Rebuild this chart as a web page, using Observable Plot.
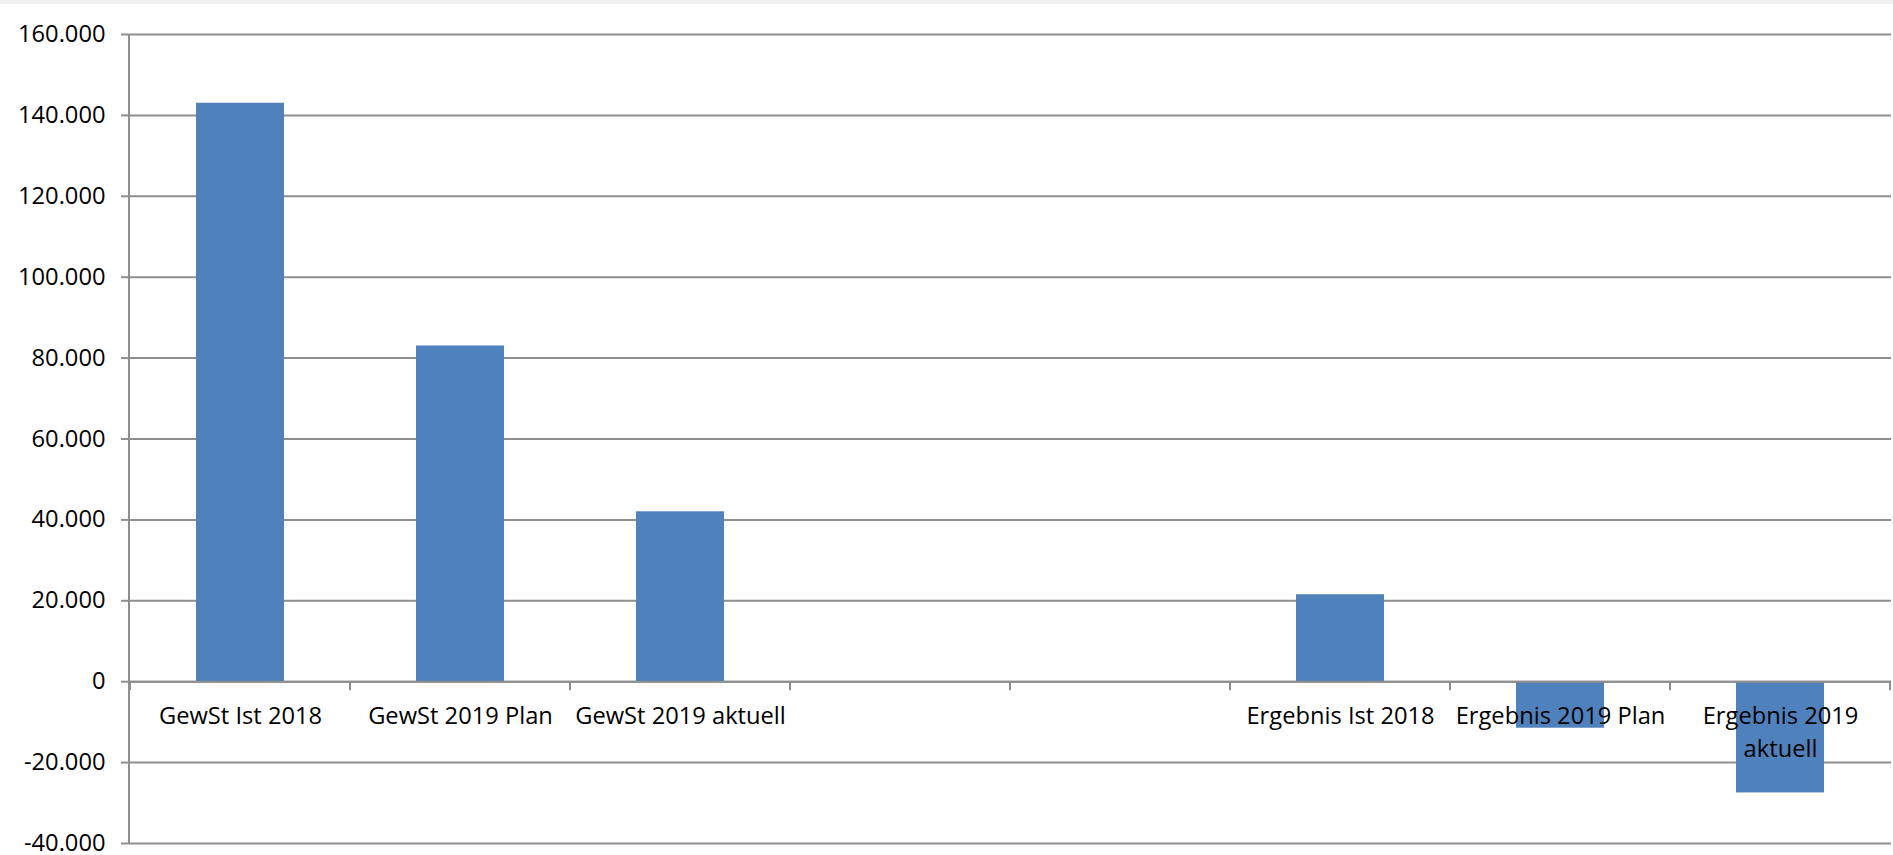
<!DOCTYPE html>
<html>
<head>
<meta charset="utf-8">
<script src="https://cdn.jsdelivr.net/npm/d3@7"></script>
<script src="https://cdn.jsdelivr.net/npm/@observablehq/plot@0.6"></script>
<style>
  html, body { margin: 0; padding: 0; background: #ffffff; }
  #strip { position: absolute; left: 0; top: 0; width: 100%; height: 4px; background: #f0f0f0; }
  #chart { position: absolute; left: 0; top: 0; }
  #chart svg { overflow: visible; }
</style>
</head>
<body>
<div id="chart"></div>
<div id="strip"></div>
<script>
// ---- data ----
const categories = [
  "GewSt Ist 2018", "GewSt 2019 Plan", "GewSt 2019 aktuell",
  "(leer 1)", "(leer 2)",
  "Ergebnis Ist 2018", "Ergebnis 2019 Plan", "Ergebnis 2019 aktuell"
];
const tickLabels = [
  "GewSt Ist 2018", "GewSt 2019 Plan", "GewSt 2019 aktuell",
  "", "",
  "Ergebnis Ist 2018", "Ergebnis 2019 Plan", "Ergebnis 2019\naktuell"
];
const values = [143000, 83000, 42000, null, null, 21500, -11500, -27500];
const yTicks = [-40000, -20000, 0, 20000, 40000, 60000, 80000, 100000, 120000, 140000, 160000];

const data = categories.map((c, i) => ({cat: c, value: values[i], label: tickLabels[i]}));

const de = d3.formatLocale({decimal: ",", thousands: ".", grouping: [3], currency: ["", " €"], minus: "-"});
const fmt = de.format(",.0f");

const gridColor = "#8e8e8e";
const barColor = "#4F81BD";

// custom mark: y axis line and category boundary ticks
function axisLines(index, scales, values, dimensions) {
  const x = scales.x, y = scales.y;
  const {width, height, marginLeft, marginRight, marginTop, marginBottom} = dimensions;
  const n = categories.length;
  const step = x.step ? x.step() : (width - marginLeft - marginRight) / n;
  const bw = x.bandwidth ? x.bandwidth() : 0;
  const y0 = y(0);
  const g = d3.create("svg:g").attr("stroke", gridColor).attr("stroke-width", 2);
  g.append("line")
    .attr("x1", marginLeft).attr("x2", marginLeft)
    .attr("y1", marginTop).attr("y2", height - marginBottom);
  const bounds = categories.map(c => x(c) + bw / 2 - step / 2);
  bounds.push(x(categories[n - 1]) + bw / 2 + step / 2);
  for (const b of bounds) {
    g.append("line").attr("x1", b).attr("x2", b).attr("y1", y0).attr("y2", y0 + 9);
  }
  return g.node();
}

const chart = Plot.plot({
  width: 1893,
  height: 855,
  marginLeft: 129,
  marginRight: 2,
  marginTop: 34,
  marginBottom: 12,
  style: {fontFamily: "'Open Sans', sans-serif", fontSize: "23.7px", color: "black", background: "white", overflow: "visible"},
  x: {domain: categories, paddingInner: 0.6, paddingOuter: 0.3, axis: null, label: null},
  y: {domain: [-40000, 160000], label: null, axis: null},
  marks: [
    Plot.gridY(yTicks, {stroke: gridColor, strokeOpacity: 1, strokeWidth: 2}),
    Plot.axisY({ticks: yTicks, tickFormat: fmt, tickSize: 8, tickPadding: 16, stroke: gridColor, strokeWidth: 2, fill: "black", label: null}),
    Plot.barY(data, {x: "cat", y: "value", fill: barColor}),
    Plot.ruleY([0], {stroke: gridColor, strokeWidth: 2}),
    Plot.text(data, {x: "cat", y: d => 0, text: "label", lineAnchor: "top", dy: 19, lineHeight: 1.39, fontSize: 23.7, fill: "black"}),
    axisLines
  ]
});
document.getElementById("chart").appendChild(chart);
</script>
</body>
</html>
